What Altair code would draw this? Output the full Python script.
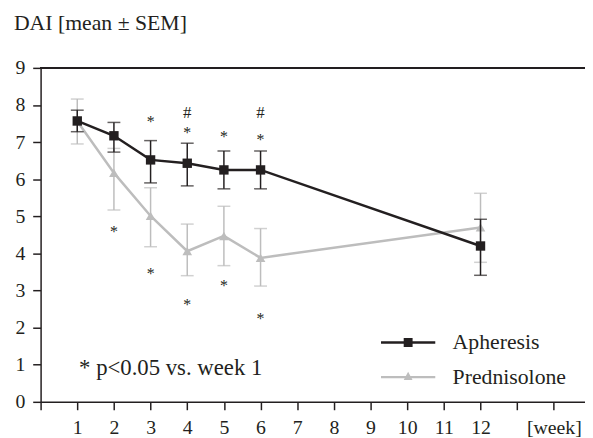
import altair as alt
import pandas as pd

# ---- data ----
series_names = ["Apheresis", "Prednisolone"]
weeks = [1, 2, 3, 4, 5, 6, 12]
aph_mean = [7.57, 7.17, 6.52, 6.43, 6.25, 6.25, 4.20]
aph_lo = [7.28, 6.73, 5.90, 5.82, 5.74, 5.74, 3.41]
aph_hi = [7.86, 7.53, 7.04, 6.97, 6.76, 6.76, 4.92]
pred_mean = [7.56, 6.17, 5.01, 4.06, 4.47, 3.88, 4.70]
pred_lo = [6.95, 5.17, 4.18, 3.40, 3.67, 3.12, 3.76]
pred_hi = [8.16, 6.83, 5.77, 4.79, 5.27, 4.67, 5.62]

star_week = [3, 4, 5, 6, 2, 3, 4, 5, 6]
star_y = [7.62, 7.34, 7.22, 7.14, 4.66, 3.53, 2.69, 3.22, 2.33]
hash_week = [4, 6]
hash_y = [7.81, 7.81]

note_text = ["* p<0.05 vs. week 1"]
note_x = [1.05]
note_y = [0.73]

x_tick_values = list(range(0, 15))
y_tick_values = list(range(0, 10))

# ---- tables ----
rows = []
for name, m, lo, hi in [("Apheresis", aph_mean, aph_lo, aph_hi),
                        ("Prednisolone", pred_mean, pred_lo, pred_hi)]:
    for w, a, b, c in zip(weeks, m, lo, hi):
        rows.append(dict(series=name, week=w, mean=a, lo=b, hi=c))
df = pd.DataFrame(rows)
stars = pd.DataFrame({"week": star_week, "y": star_y, "t": ["*"] * len(star_week)})
hashes = pd.DataFrame({"week": hash_week, "y": hash_y, "t": ["#"] * len(hash_week)})
note = pd.DataFrame({"week": note_x, "y": note_y, "t": note_text})

BLACK = "#231f20"
GRAY = "#bdbdbd"
FONT = "Liberation Serif"
colors = {"Apheresis": BLACK, "Prednisolone": GRAY}

color_scale = alt.Scale(domain=series_names, range=[BLACK, GRAY])
xs = alt.Scale(domain=[0, 14.85], nice=False, zero=False)
ys = alt.Scale(domain=[0, 9], nice=False)

x_axis = alt.Axis(
    values=x_tick_values,
    labelExpr="datum.value == 0 || datum.value == 13 ? '' : (datum.value == 14 ? '[week]' : datum.label)",
    title=None, grid=False, tickSize=8, labelPadding=8, labelFlush=False, labelOverlap=False,
    domainColor=BLACK, tickColor=BLACK, labelColor=BLACK, labelFont=FONT, labelFontSize=20,
    domainWidth=1.5, tickWidth=1.5, labelAngle=0,
)
y_axis = alt.Axis(
    values=y_tick_values, title=None, grid=False, tickSize=8, labelPadding=8, labelOverlap=False,
    domainColor=BLACK, tickColor=BLACK, labelColor=BLACK, labelFont=FONT, labelFontSize=20,
    domainWidth=1.5, tickWidth=1.5,
)

X = alt.X("week:Q", scale=xs, axis=x_axis)

base = alt.Chart(df)

layers = []
shapes = {"Apheresis": "square", "Prednisolone": "triangle-up"}
sizes = {"Apheresis": 90, "Prednisolone": 95}
for name in ["Prednisolone", "Apheresis"]:
    sub = base.transform_filter(alt.datum.series == name)
    err = sub.mark_errorbar(ticks=True, size=13, thickness=1.5, color=colors[name]).encode(
        x=X,
        y=alt.Y("lo:Q", scale=ys, axis=y_axis),
        y2="hi:Q",
    )
    line = sub.mark_line(strokeWidth=2.5, color=colors[name]).encode(
        x=X,
        y=alt.Y("mean:Q", scale=ys, axis=y_axis),
    )
    pts = sub.mark_point(shape=shapes[name], filled=True, size=sizes[name], opacity=1,
                         color=colors[name]).encode(
        x=X,
        y=alt.Y("mean:Q", scale=ys, axis=y_axis),
    )
    layers += [err, line, pts]

top_rule = base.mark_rule(color=BLACK, strokeWidth=1.5).encode(
    y=alt.YDatum(9, scale=ys, axis=y_axis))
layers.append(top_rule)

# legend symbols: a line with the marker in its middle (custom paths, unit = 9 px)
path_aph = "M-3.05,0H3.05M-0.5,-0.36H0.5M-0.5,-0.12H0.5M-0.5,0.12H0.5M-0.5,0.36H0.5"
path_pred = "M-3.05,0H3.05M0,-0.3L-0.26,0.18L0.26,0.18Z"
leg = dict(
    orient="none", legendX=361, legendY=267, title=None, padding=0,
    labelFont=FONT, labelFontSize=22, labelColor=BLACK, labelOffset=34,
    symbolSize=324, symbolStrokeWidth=2.5, symbolOpacity=1, rowPadding=13,
)
legend_layer = base.mark_point(size=0, filled=False, strokeWidth=2.5, opacity=1).encode(
    x=X,
    y=alt.Y("mean:Q", scale=ys, axis=y_axis),
    color=alt.Color("series:N", scale=color_scale, legend=alt.Legend(**leg)),
    shape=alt.Shape("series:N", scale=alt.Scale(domain=series_names, range=[path_aph, path_pred]),
                    legend=alt.Legend(**leg)),
)
layers.append(legend_layer)

star_layer = alt.Chart(stars).mark_text(font=FONT, fontSize=16, color=BLACK, baseline="alphabetic", dy=8.5).encode(
    x=X, y=alt.Y("y:Q", scale=ys, axis=y_axis), text="t:N")
hash_layer = alt.Chart(hashes).mark_text(font=FONT, fontSize=17, color=BLACK, baseline="alphabetic", dy=5.8).encode(
    x=X, y=alt.Y("y:Q", scale=ys, axis=y_axis), text="t:N")
note_layer = alt.Chart(note).mark_text(font=FONT, fontSize=23, color=BLACK, baseline="alphabetic", align="left").encode(
    x=X, y=alt.Y("y:Q", scale=ys, axis=y_axis), text="t:N")
layers += [star_layer, hash_layer, note_layer]

chart = alt.layer(*layers).properties(
    width=551, height=338, autosize="none",
    padding={"left": 33, "top": 58, "right": 0, "bottom": 34},
    title=alt.TitleParams("DAI [mean ± SEM]", anchor="start", frame="group", dx=-27, font=FONT,
                          fontSize=22, fontWeight="normal", color=BLACK, baseline="alphabetic", offset=6),
).configure_view(stroke=None)

chart.save("out.html", embed_options={"renderer": "svg", "actions": False})
